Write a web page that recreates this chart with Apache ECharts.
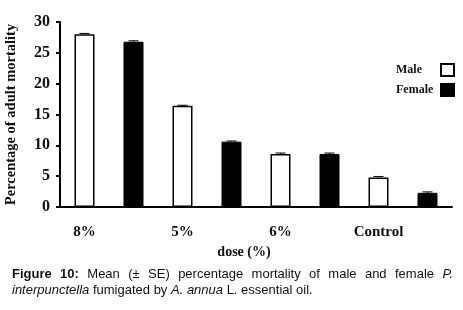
<!DOCTYPE html>
<html>
<head>
<meta charset="utf-8">
<script src="https://cdn.jsdelivr.net/npm/echarts@6/dist/echarts.min.js"></script>
<style>
  html, body { margin: 0; padding: 0; background: #fff; }
  #chart { width: 463px; height: 310px; }
</style>
</head>
<body>
<div id="chart"></div>
<script>
// doses, one group each; male and female bars sit in their own slots
const doses = ['8%', '5%', '6%', 'Control'];
const maleMortality = [28.0, 16.4, 8.6, 4.8];
const femaleMortality = [26.8, 10.6, 8.6, 2.3];
const maleSE = [0.15, 0.1, 0.15, 0.15];
const femaleSE = [0.15, 0.1, 0.15, 0.15];
const yTicks = [0, 5, 10, 15, 20, 25, 30];

const serif = '"Liberation Serif", "Times New Roman", serif';
const sans = '"Liberation Sans", Arial, sans-serif';

// 8 slots: male, female, male, female ...
const slots = [];
const maleData = [];
const femaleData = [];
const errData = [];
doses.forEach((d, i) => {
  slots.push(d + '|M', d + '|F');
  maleData.push(maleMortality[i], null);
  femaleData.push(null, femaleMortality[i]);
  errData.push([i * 2, maleMortality[i], maleSE[i]]);
  errData.push([i * 2 + 1, femaleMortality[i], femaleSE[i]]);
});

const chart = echarts.init(document.getElementById('chart'));

// caption, first line justified like the journal layout
const capLeft = 12, capRight = 453;
const ctx = document.createElement('canvas').getContext('2d');
function measure(text, font) { ctx.font = font; return ctx.measureText(text).width; }
const capSize = 13;
const line1 = [
  ['Figure', 'bold'], ['10:', 'bold'], ['Mean', ''], ['(±', ''], ['SE)', ''],
  ['percentage', ''], ['mortality', ''], ['of', ''], ['male', ''], ['and', ''],
  ['female', ''], ['P.', 'italic']
];
const fontOf = s => (s === 'bold' ? 'bold ' : s === 'italic' ? 'italic ' : '') + capSize + 'px ' + sans;
let sum = 0;
const widths = line1.map(([w, s]) => {
  const m = measure(w, fontOf(s));
  sum += m;
  return m;
});
const gap = (capRight - capLeft - sum) / (line1.length - 1);
const captionEls = [];
let cx = capLeft;
line1.forEach(([w, s], i) => {
  captionEls.push({
    type: 'text', left: cx, top: 268,
    style: { text: w, fill: '#111', font: fontOf(s) }
  });
  cx += widths[i] + gap;
});
captionEls.push({
  type: 'text', left: capLeft, top: 284,
  style: {
    text: '{i|interpunctella} fumigated by {i|A. annua} L. essential oil.',
    fill: '#111', font: capSize + 'px ' + sans,
    rich: { i: { fontStyle: 'italic', fontFamily: sans, fontSize: capSize, fill: '#111' } }
  }
});

const option = {
  animation: false,
  backgroundColor: '#fff',
  grid: { left: 60, right: 11, top: 22, bottom: 103, outerBoundsMode: 'none' },
  legend: {
    orient: 'vertical',
    right: 3,
    top: 58,
    align: 'right',
    icon: 'rect',
    itemWidth: 13,
    itemHeight: 12,
    itemGap: 6,
    data: ['Male', 'Female'],
    formatter: n => '{t|' + n + '}',
    textStyle: {
      rich: { t: { width: 40, align: 'left', fontFamily: serif, fontWeight: 'bold', fontSize: 12, color: '#111' } }
    }
  },
  xAxis: {
    type: 'category',
    data: slots,
    name: 'dose (%)',
    nameLocation: 'middle',
    nameGap: 37,
    nameTextStyle: { fontFamily: serif, fontWeight: 'bold', fontSize: 14, color: '#111', padding: [0, 24, 0, 0] },
    axisLine: { lineStyle: { color: '#000', width: 2 } },
    axisTick: { interval: 0, length: 4, lineStyle: { color: '#000', width: 2 } },
    axisLabel: {
      interval: 0,
      margin: 18,
      formatter: v => v.endsWith('|M') ? v.split('|')[0] : '',
      fontFamily: serif, fontWeight: 'bold', fontSize: 15, color: '#111'
    }
  },
  yAxis: {
    type: 'value',
    min: yTicks[0],
    max: yTicks[yTicks.length - 1],
    interval: 5,
    name: 'Percentage of adult mortality',
    nameLocation: 'middle',
    nameGap: 41,
    nameTextStyle: { fontFamily: serif, fontWeight: 'bold', fontSize: 14.5, color: '#111' },
    axisLine: { show: true, lineStyle: { color: '#000', width: 2 } },
    axisTick: { show: true, length: 4, lineStyle: { color: '#000', width: 2 } },
    axisLabel: { margin: 10, fontFamily: serif, fontWeight: 'bold', fontSize: 16, color: '#111' },
    splitLine: { show: false }
  },
  series: [
    {
      name: 'Male', type: 'bar', data: maleData, barWidth: 20, barGap: '-100%',
      itemStyle: { color: '#fff', borderColor: '#000', borderWidth: 1.5 }
    },
    {
      name: 'Female', type: 'bar', data: femaleData, barWidth: 20, barGap: '-100%',
      itemStyle: { color: '#000', borderColor: '#000', borderWidth: 1 }
    },
    {
      type: 'custom',
      data: errData,
      z: 5,
      renderItem: (params, api) => {
        const x = api.value(0), v = api.value(1), se = api.value(2);
        const top = api.coord([x, v + se]);
        const base = api.coord([x, v]);
        const hw = 5;
        return {
          type: 'group',
          children: [
            { type: 'line', shape: { x1: top[0], y1: top[1], x2: top[0], y2: base[1] }, style: { stroke: '#000', lineWidth: 1 } },
            { type: 'line', shape: { x1: top[0] - hw, y1: top[1], x2: top[0] + hw, y2: top[1] }, style: { stroke: '#000', lineWidth: 1 } }
          ]
        };
      }
    }
  ],
  graphic: captionEls
};
chart.setOption(option);
</script>
</body>
</html>
